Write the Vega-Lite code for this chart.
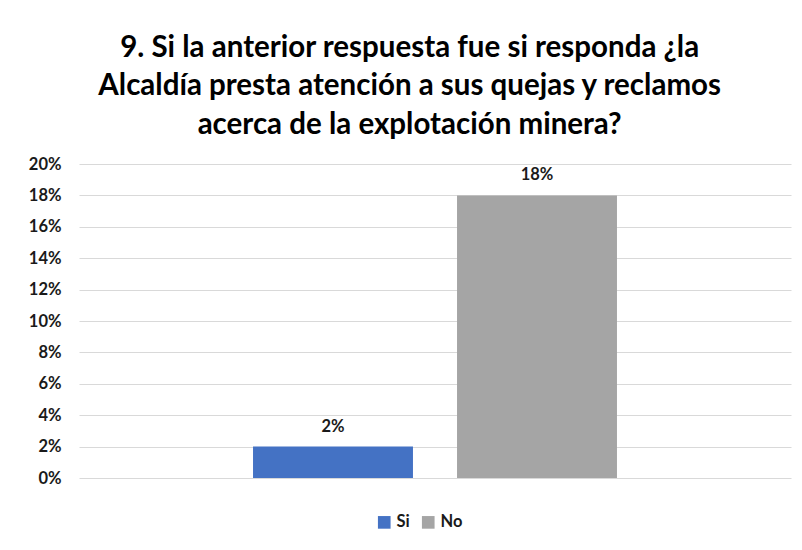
{
  "$schema": "https://vega.github.io/schema/vega-lite/v6.json",
  "width": 712,
  "height": 314,
  "padding": {"left": 28, "top": 32, "right": 10, "bottom": 10},
  "background": "white",
  "title": {
    "text": ["9. Si la anterior respuesta fue si responda ¿la", "Alcaldía presta atención a sus quejas y reclamos", "acerca de la explotación minera?"],
    "font": "Lato",
    "fontSize": 29.5,
    "fontWeight": "bold",
    "color": "#000000",
    "lineHeight": 38.5,
    "anchor": "middle",
    "frame": "bounds",
    "offset": 16
  },
  "data": {
    "values": [
      {"respuesta": "Si", "valor": 0.02},
      {"respuesta": "No", "valor": 0.18}
    ]
  },
  "encoding": {
    "x": {
      "field": "respuesta",
      "type": "nominal",
      "sort": ["Si", "No"],
      "scale": {"paddingInner": 0.216, "paddingOuter": 0.853},
      "axis": null
    },
    "y": {
      "field": "valor",
      "type": "quantitative",
      "scale": {"domain": [0, 0.2], "nice": false},
      "axis": {
        "format": ".0%",
        "values": [0, 0.02, 0.04, 0.06, 0.08, 0.1, 0.12, 0.14, 0.16, 0.18, 0.2],
        "title": null,
        "domain": false,
        "ticks": false,
        "labelPadding": 18,
        "labelFont": "Lato",
        "labelFontSize": 16.5,
        "labelFontWeight": "bold",
        "labelColor": "#1a1a1a",
        "gridColor": "#d9d9d9",
        "gridWidth": 1
      }
    }
  },
  "layer": [
    {
      "mark": {"type": "bar"},
      "encoding": {
        "color": {
          "field": "respuesta",
          "type": "nominal",
          "sort": ["Si", "No"],
          "scale": {"domain": ["Si", "No"], "range": ["#4472C4", "#A5A5A5"]},
          "legend": {
            "title": null,
            "orient": "none",
            "legendX": 297,
            "legendY": 350,
            "direction": "horizontal",
            "symbolType": "square",
            "symbolSize": 160,
            "symbolStrokeWidth": 0,
            "symbolOpacity": 1,
            "labelFont": "Lato",
            "labelFontSize": 16.5,
            "labelFontWeight": "bold",
            "labelColor": "#1a1a1a",
            "labelOffset": 4,
            "columnPadding": 10
          }
        }
      }
    },
    {
      "mark": {"type": "text", "baseline": "bottom", "dy": -12, "font": "Lato", "fontSize": 16.5, "fontWeight": "bold", "color": "#1a1a1a"},
      "encoding": {
        "text": {"field": "valor", "type": "quantitative", "format": ".0%"}
      }
    }
  ],
  "config": {
    "view": {"stroke": null}
  }
}
